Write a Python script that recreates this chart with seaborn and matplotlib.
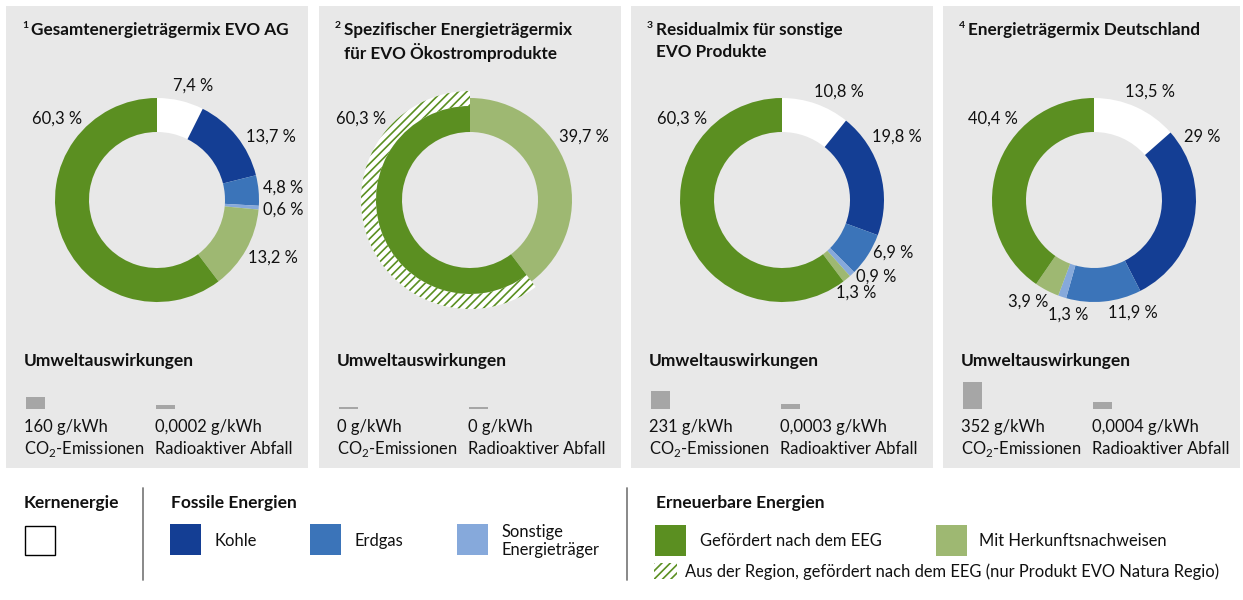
import matplotlib
matplotlib.use("Agg")
import matplotlib.pyplot as plt
from matplotlib.patches import Rectangle, Wedge
import seaborn as sns
import pandas as pd

# ---------------- data ----------------
segments = ["Kernenergie", "Kohle", "Erdgas", "Sonstige\nEnergieträger",
            "Mit Herkunftsnachweisen", "Gefördert nach dem EEG"]
titles = [["Gesamtenergieträgermix EVO AG"],
          ["Spezifischer Energieträgermix", "für EVO Ökostromprodukte"],
          ["Residualmix für sonstige", "EVO Produkte"],
          ["Energieträgermix Deutschland"]]
mix_evo_ag = [7.4, 13.7, 4.8, 0.6, 13.2, 60.3]
mix_oekostrom = [0, 0, 0, 0, 39.7, 60.3]
mix_residual = [10.8, 19.8, 6.9, 0.9, 1.3, 60.3]
mix_deutschland = [13.5, 29, 11.9, 1.3, 3.9, 40.4]
co2_g_kwh = [160, 0, 231, 352]
radio_g_kwh = [0.0002, 0, 0.0003, 0.0004]
region_label = "Aus der Region, gefördert nach dem EEG (nur Produkt EVO Natura Regio)"
mixes = [mix_evo_ag, mix_oekostrom, mix_residual, mix_deutschland]

# ---------------- style ----------------
sns.set_theme(style="white")
plt.rcParams["font.family"] = ["Lato", "DejaVu Sans"]
plt.rcParams["mathtext.fontset"] = "custom"
plt.rcParams["mathtext.rm"] = "Lato"
plt.rcParams["hatch.linewidth"] = 1.2

C_KERN = "#FFFFFF"
C_KOHLE = "#143E94"
C_GAS = "#3B74B9"
C_SONST = "#86A9DB"
C_HKN = "#9EB872"
C_EEG = "#5B8F21"
seg_colors = [C_KERN, C_KOHLE, C_GAS, C_SONST, C_HKN, C_EEG]
PANEL = "#E8E8E8"
BAR = "#A6A6A6"
TXT = "#111111"

FS_LBL = 11.9
FS_TITLE = 12.3
FS_HEAD = 12.5

W, H = 1243, 600
panel_left = [6, 319, 631, 943]
panel_width = [302, 302, 302, 297]
PANEL_TOP, PANEL_BOT = 6, 468
CY = 200
R_OUT, R_IN = 102, 68

# label offsets (px, relative to pie centre) for each segment
label_offsets = [
    [(36, -114), (114, -63), (126, -12), (126, 10), (116, 58), (-100, -81)],
    [None, None, None, None, (114, -63), (-109, -81)],
    [(57, -108), (115, -63), (111, 53), (94, 77), (74, 93), (-100, -81)],
    [(56, -108), (108, -63), (39, 113), (-26, 115), (-66, 102), (-101, -81)],
]


def Y(y):
    return H - y


def fmt(v):
    return f"{v:g}".replace(".", ",")


fig = plt.figure(figsize=(W / 100, H / 100), dpi=100)
fig.patch.set_facecolor("white")
ax = fig.add_axes([0, 0, 1, 1])

for i in range(4):
    pl = panel_left[i]
    ax.add_patch(Rectangle((pl, Y(PANEL_BOT)), panel_width[i], PANEL_BOT - PANEL_TOP,
                           facecolor=PANEL, edgecolor="none", zorder=0))
    cx = pl + 151
    wedges, _ = ax.pie(mixes[i], colors=seg_colors, startangle=90, counterclock=False,
                       radius=R_OUT, center=(cx, Y(CY)), frame=True,
                       wedgeprops=dict(width=R_OUT - R_IN, linewidth=0))
    for w in wedges:
        w.set_zorder(2)
    if i == 1:
        g = wedges[5]
        g.set_radius(94)
        g.set_width(94 - R_IN)
        ax.add_patch(Wedge((cx, Y(CY)), 109, g.theta1, g.theta2, width=15,
                           facecolor="white", edgecolor=C_EEG, hatch="////",
                           linewidth=0, zorder=1))
    for v, off in zip(mixes[i], label_offsets[i]):
        if off is None or v == 0:
            continue
        ax.text(cx + off[0], Y(CY + off[1]), f"{fmt(v)} %", ha="center", va="center",
                fontsize=FS_LBL, color=TXT, zorder=5)
    # titles
    ax.text(pl + 16, Y(25), str(i + 1), fontsize=7.5, fontweight="bold", color=TXT,
            ha="left", va="center")
    for k, line in enumerate(titles[i]):
        ax.text(pl + 25, Y(30 + 22 * k), line, fontsize=FS_TITLE, fontweight="bold",
                color=TXT, ha="left", va="center")
    # environment
    ax.text(pl + 18, Y(361), "Umweltauswirkungen", fontsize=FS_HEAD, fontweight="bold",
            color=TXT, ha="left", va="center")
    ax.text(pl + 18, Y(427), f"{fmt(co2_g_kwh[i])} g/kWh", fontsize=FS_LBL, color=TXT,
            ha="left", va="center")
    ax.text(pl + 18, Y(449), r"CO$_{\mathregular{2}}$-Emissionen", fontsize=FS_LBL,
            color=TXT, ha="left", va="center")
    ax.text(pl + 149, Y(427), f"{fmt(radio_g_kwh[i])} g/kWh", fontsize=FS_LBL, color=TXT,
            ha="left", va="center")
    ax.text(pl + 149, Y(449), "Radioaktiver Abfall", fontsize=FS_LBL, color=TXT,
            ha="left", va="center")

ax.set_xlim(0, W)
ax.set_ylim(0, H)
ax.set_aspect("auto")
ax.axis("off")

# small bars with seaborn
BASE = 409
BAR_H = 30
co2_top = 391
radio_top = 0.001714


def small_bar(x0, value, top):
    bax = fig.add_axes([x0 / W, Y(BASE) / H, 19 / W, BAR_H / H])
    shown = max(value, top * 2 / BAR_H)
    df = pd.DataFrame({"k": ["v"], "v": [shown]})
    sns.barplot(data=df, x="k", y="v", color=BAR, saturation=1, width=1,
                linewidth=0, ax=bax)
    bax.set_xlim(-0.5, 0.5)
    bax.set_ylim(0, top)
    bax.axis("off")


for i in range(4):
    pl = panel_left[i]
    small_bar(pl + 20, co2_g_kwh[i], co2_top)
    small_bar(pl + 150, radio_g_kwh[i], radio_top)

# ---------------- legend ----------------
def square(x, ytop, w, h, fc, ec="none", lw=0, hatch=None):
    ax.add_patch(Rectangle((x, Y(ytop + h)), w, h, facecolor=fc, edgecolor=ec,
                           linewidth=lw, hatch=hatch, zorder=3))

ax.text(24, Y(503), "Kernenergie", fontsize=FS_HEAD, fontweight="bold", color=TXT,
        ha="left", va="center")
square(25, 526, 30, 29, "white", ec="black", lw=1)
ax.plot([143, 143], [Y(488), Y(580)], color="#7F7F7F", lw=1.3)

ax.text(171, Y(503), "Fossile Energien", fontsize=FS_HEAD, fontweight="bold", color=TXT,
        ha="left", va="center")
fossil_x = [170, 310, 457]
for j, xs in enumerate(fossil_x):
    square(xs, 524, 31, 31, seg_colors[1 + j])
    ax.text(xs + 45, Y(541), segments[1 + j], fontsize=FS_LBL, color=TXT, ha="left",
            va="center", linespacing=1.15)
ax.plot([627, 627], [Y(488), Y(580)], color="#7F7F7F", lw=1.3)

ax.text(656, Y(503), "Erneuerbare Energien", fontsize=FS_HEAD, fontweight="bold",
        color=TXT, ha="left", va="center")
square(655, 525, 31, 31, C_EEG)
ax.text(700, Y(541), segments[5], fontsize=FS_LBL, color=TXT, ha="left", va="center")
square(936, 525, 31, 31, C_HKN)
ax.text(979, Y(541), segments[4], fontsize=FS_LBL, color=TXT, ha="left", va="center")
ax.add_patch(Rectangle((654, Y(579)), 23, 16, facecolor="white", edgecolor=C_EEG,
                       linewidth=0, hatch="////", zorder=3))
ax.text(685, Y(572), region_label, fontsize=FS_LBL, color=TXT, ha="left", va="center")

fig.savefig("out.png", dpi=100, facecolor="white")
